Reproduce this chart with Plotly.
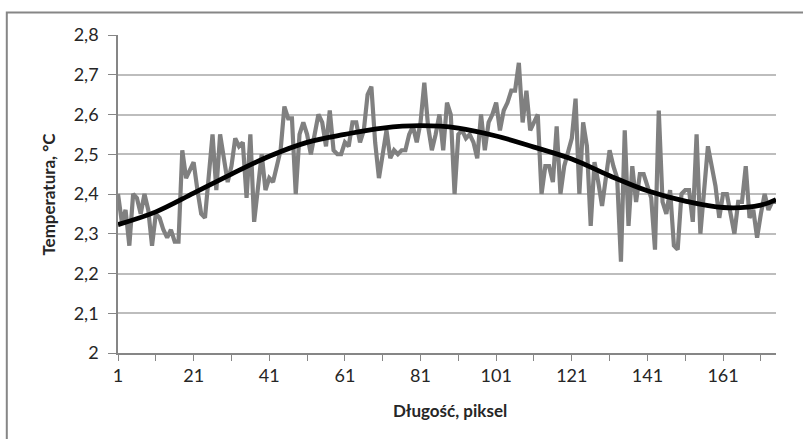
import plotly.graph_objects as go

# Measured temperature per pixel (gray noisy series), x = 1..175
temperature = [
    2.40, 2.33, 2.36, 2.27, 2.40, 2.39, 2.35, 2.40, 2.36, 2.27,
    2.35, 2.34, 2.31, 2.29, 2.31, 2.28, 2.28, 2.51, 2.44, 2.46,
    2.48, 2.41, 2.35, 2.34, 2.44, 2.55, 2.41, 2.55, 2.49, 2.43,
    2.47, 2.54, 2.52, 2.53, 2.39, 2.55, 2.33, 2.42, 2.50, 2.41,
    2.44, 2.43, 2.47, 2.51, 2.62, 2.59, 2.59, 2.40, 2.55, 2.58,
    2.55, 2.50, 2.55, 2.60, 2.58, 2.52, 2.61, 2.51, 2.50, 2.50,
    2.53, 2.52, 2.58, 2.58, 2.53, 2.56, 2.65, 2.67, 2.53, 2.44,
    2.50, 2.56, 2.49, 2.51, 2.50, 2.51, 2.51, 2.55, 2.57, 2.53,
    2.58, 2.68, 2.57, 2.51, 2.55, 2.60, 2.51, 2.63, 2.60, 2.40,
    2.55, 2.56, 2.54, 2.55, 2.53, 2.49, 2.60, 2.51, 2.58, 2.60,
    2.63, 2.56, 2.61, 2.63, 2.66, 2.66, 2.73, 2.58, 2.66, 2.56,
    2.58, 2.60, 2.40, 2.47, 2.47, 2.43, 2.57, 2.40, 2.47, 2.51,
    2.54, 2.64, 2.40, 2.58, 2.52, 2.32, 2.48, 2.43, 2.37, 2.44,
    2.51, 2.47, 2.44, 2.23, 2.56, 2.32, 2.47, 2.38, 2.45, 2.45,
    2.42, 2.39, 2.26, 2.61, 2.38, 2.35, 2.41, 2.27, 2.26, 2.40,
    2.41, 2.41, 2.33, 2.55, 2.30, 2.40, 2.52, 2.47, 2.42, 2.34,
    2.40, 2.40, 2.35, 2.30, 2.38, 2.38, 2.47, 2.34, 2.36, 2.29,
    2.35, 2.40, 2.36, 2.38, 2.38,
]
pixels = list(range(1, len(temperature) + 1))

# Smooth trend line (black), read at selected pixels
trend_x = [1, 11, 21, 31, 41, 51, 61, 71, 81, 91, 101, 111, 121, 131, 141, 151, 161, 171, 175]
trend_y = [2.323, 2.355, 2.402, 2.450, 2.495, 2.530, 2.550, 2.566, 2.572, 2.566,
           2.546, 2.518, 2.488, 2.446, 2.408, 2.382, 2.366, 2.372, 2.386]

x_tick_vals = list(range(1, 172, 10))
x_tick_text = [str(v) if (v - 1) % 20 == 0 else "" for v in x_tick_vals]
y_tick_vals = [2.0, 2.1, 2.2, 2.3, 2.4, 2.5, 2.6, 2.7, 2.8]
y_tick_text = ["2", "2,1", "2,2", "2,3", "2,4", "2,5", "2,6", "2,7", "2,8"]

x_title = "Długość, piksel"
y_title = "Temperatura, °C"

FONT = "Lato, 'Open Sans', sans-serif"
AXIS_GRAY = "#868686"
TEXT = "#262626"

fig = go.Figure()
fig.add_trace(go.Scatter(
    x=pixels, y=temperature, mode="lines",
    line=dict(color="#808080", width=4.2),
    showlegend=False, hoverinfo="skip",
))
fig.add_trace(go.Scatter(
    x=trend_x, y=trend_y, mode="lines",
    line=dict(color="#000000", width=4.8, shape="spline", smoothing=1.0),
    showlegend=False, hoverinfo="skip",
))

fig.update_layout(
    width=803, height=439,
    margin=dict(l=118, r=27, t=35, b=86),
    paper_bgcolor="white", plot_bgcolor="white",
    font=dict(family=FONT, size=18, color=TEXT),
    xaxis=dict(
        range=[1, 175], tickmode="array", tickvals=x_tick_vals, ticktext=x_tick_text,
        showgrid=False, zeroline=False, showline=True, linecolor=AXIS_GRAY, linewidth=1.5,
        ticks="outside", ticklen=6, tickcolor=AXIS_GRAY, tickwidth=1,
        tickfont=dict(family=FONT, size=18, color=TEXT),
    ),
    yaxis=dict(
        range=[2.0, 2.8], tickmode="array", tickvals=y_tick_vals, ticktext=y_tick_text,
        showgrid=True, gridcolor="#BDBDBD", gridwidth=1.5, zeroline=False,
        showline=True, linecolor=AXIS_GRAY, linewidth=1.5,
        ticks="outside", ticklen=8, tickcolor=AXIS_GRAY, tickwidth=1,
        ticklabelstandoff=6,
        tickfont=dict(family=FONT, size=18, color=TEXT),
    ),
    annotations=[
        dict(text="<b>" + x_title + "</b>", xref="paper", yref="paper",
             x=0.504, y=-0.18, xanchor="center", yanchor="middle", showarrow=False,
             font=dict(family=FONT, size=17, color=TEXT)),
        dict(text="<b>" + y_title + "</b>", xref="paper", yref="paper",
             x=-0.107, y=0.5, xanchor="center", yanchor="middle", showarrow=False,
             textangle=-90, font=dict(family=FONT, size=17, color=TEXT)),
    ],
    shapes=[
        dict(type="rect", xref="paper", yref="paper",
             x0=-0.169, y0=-0.30, x1=1.06, y1=1.0709,
             line=dict(color=AXIS_GRAY, width=2), fillcolor="rgba(0,0,0,0)", layer="below"),
    ],
)

fig.write_html("out.html")
